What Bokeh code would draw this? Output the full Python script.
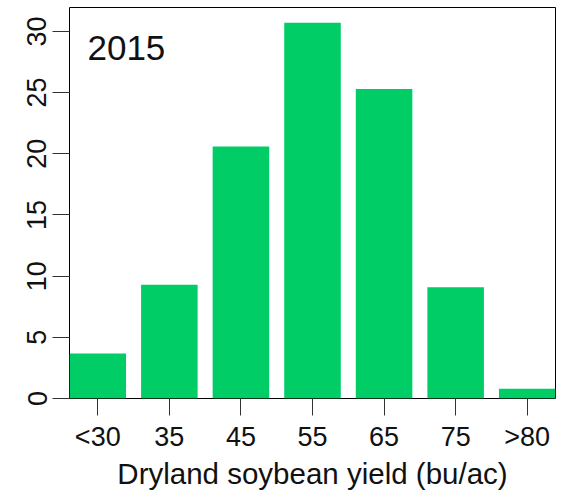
from bokeh.plotting import figure
from bokeh.models import Range1d, FixedTicker, Label
from bokeh.embed import file_html
from bokeh.resources import INLINE

categories = ["<30", "35", "45", "55", "65", "75", ">80"]
values = [3.67, 9.3, 20.6, 30.7, 25.3, 9.1, 0.8]
y_ticks = [0, 5, 10, 15, 20, 25, 30]
title_text = "2015"
x_title = "Dryland soybean yield (bu/ac)"

positions = list(range(1, len(categories) + 1))
bar_w = 0.79
FONT = "Liberation Sans"

p = figure(width=561, height=492, output_backend="svg", toolbar_location=None,
           x_range=Range1d(1 - bar_w / 2, len(categories) + bar_w / 2),
           y_range=Range1d(0, 31.95),
           min_border_left=69, min_border_right=6, min_border_top=7, min_border_bottom=93)
p.grid.visible = False
p.outline_line_color = "black"
p.outline_line_width = 1
p.background_fill_color = "white"
p.border_fill_color = "white"

p.vbar(x=positions, top=values, width=bar_w, bottom=0, fill_color="#00CD66", line_color=None)

ya = p.yaxis[0]
ya.ticker = FixedTicker(ticks=y_ticks)
ya.axis_line_color = None
ya.major_tick_out = 17
ya.major_tick_in = 0
ya.minor_tick_line_color = None
ya.major_tick_line_color = "#333333"
ya.major_label_orientation = "parallel"
ya.major_label_text_font = FONT
ya.major_label_text_font_size = "27px"
ya.major_label_text_color = "#111111"
ya.major_label_standoff = 6

xa = p.xaxis[0]
xa.ticker = FixedTicker(ticks=positions)
xa.major_label_overrides = {pos: c for pos, c in zip(positions, categories)}
xa.axis_line_color = None
xa.major_tick_out = 17
xa.major_tick_in = 0
xa.minor_tick_line_color = None
xa.major_tick_line_color = "#333333"
xa.major_label_text_font = FONT
xa.major_label_text_font_size = "27px"
xa.major_label_text_color = "#111111"
xa.major_label_standoff = 6
xa.axis_label = x_title
xa.axis_label_text_font = FONT
xa.axis_label_text_font_style = "normal"
xa.axis_label_text_font_size = "29.5px"
xa.axis_label_text_color = "#111111"
xa.axis_label_standoff = 2

lbl = Label(x=0.856, y=28.6, text=title_text, text_font=FONT, text_font_size="35px",
            text_color="#111111", text_baseline="alphabetic", text_align="left")
p.add_layout(lbl)

open("out.html", "w").write(file_html(p, INLINE))
